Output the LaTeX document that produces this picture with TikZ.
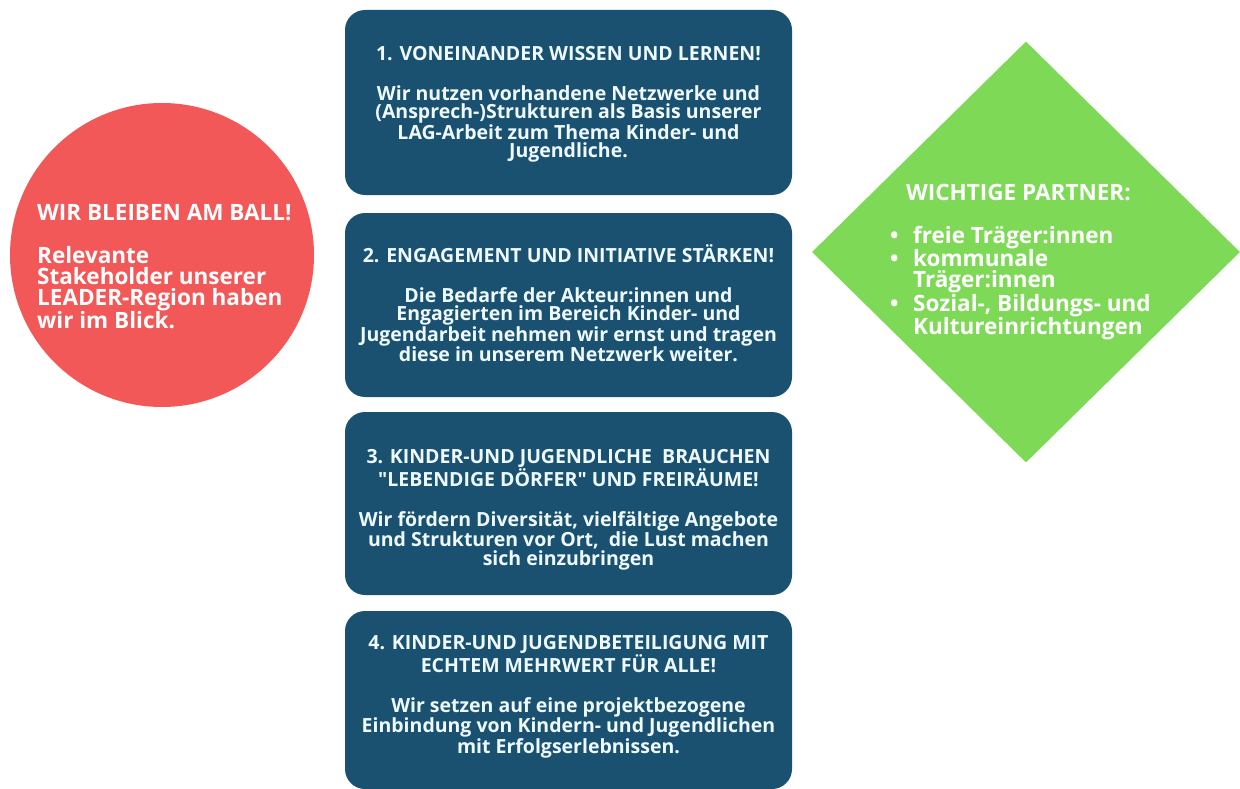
\documentclass[tikz,border=0pt]{standalone}
\usepackage{fontspec}
\setmainfont{Open Sans}
\usetikzlibrary{shapes.geometric}
\definecolor{kastenblau}{RGB}{26,80,112}
\definecolor{ballrot}{RGB}{242,88,88}
\definecolor{partnergruen}{RGB}{126,217,87}
\definecolor{schrift}{RGB}{238,250,255}
\newcommand{\punkt}{\makebox[23pt][l]{\textbullet}}
\newcommand{\einzug}{\hspace*{23pt}}
\newcommand{\kopf}[1]{\rule{0pt}{#1}}
\begin{document}
\begin{tikzpicture}[x=1pt,y=-1pt,
  ziel/.style={rectangle, rounded corners=20pt, fill=kastenblau, minimum width=447pt, inner sep=0pt},
  zieltext/.style={anchor=north, align=center, text=schrift, inner sep=0pt, font=\bfseries\fontsize{19.5}{18.5}\selectfont},
  seitentext/.style={anchor=north west, align=left, text=white, inner sep=0pt, font=\bfseries\fontsize{22.5}{21}\selectfont}]
\useasboundingbox (0,0) rectangle (1240,789);
\node[circle, fill=ballrot, minimum size=304pt, inner sep=0pt] (ball) at (162,255){};
\node[seitentext] (balltext) at (37,198){\kopf{22pt}WIR BLEIBEN AM BALL!\\[22pt]Relevante\\Stakeholder unserer\\LEADER-Region haben\\wir im Blick.};
\node[ziel, minimum height=185pt] (ziel1) at (568.5,102.5){};
\node[ziel, minimum height=184pt] (ziel2) at (568.5,305){};
\node[ziel, minimum height=183pt] (ziel3) at (568.5,503.5){};
\node[ziel, minimum height=178pt] (ziel4) at (568.5,700){};
\node[zieltext] (ziel1text) at (568.5,41){\kopf{19pt}1. VONEINANDER WISSEN UND LERNEN!\\[21.5pt]Wir nutzen vorhandene Netzwerke und\\(Ansprech-)Strukturen als Basis unserer\\LAG-Arbeit zum Thema Kinder- und\\Jugendliche.};
\node[zieltext] (ziel2text) at (568.5,243){\kopf{19pt}2. ENGAGEMENT UND INITIATIVE STÄRKEN!\\[21.5pt]Die Bedarfe der Akteur:innen und\\Engagierten im Bereich Kinder- und\\Jugendarbeit nehmen wir ernst und tragen\\diese in unserem Netzwerk weiter.};
\node[zieltext] (ziel3text) at (568.5,444){\kopf{19pt}3. KINDER-UND JUGENDLICHE\ \ BRAUCHEN\\\textquotedbl LEBENDIGE DÖRFER\textquotedbl{} UND FREIRÄUME!\\[21.5pt]Wir fördern Diversität, vielfältige Angebote\\und Strukturen vor Ort,\ \ die Lust machen\\sich einzubringen};
\node[zieltext] (ziel4text) at (568.5,630){\kopf{19pt}4. KINDER-UND JUGENDBETEILIGUNG MIT\\ECHTEM MEHRWERT FÜR ALLE!\\[21.5pt]Wir setzen auf eine projektbezogene\\Einbindung von Kindern- und Jugendlichen\\mit Erfolgserlebnissen.};
\node[diamond, fill=partnergruen, minimum width=428pt, minimum height=421pt, inner sep=0pt] (partner) at (1026,252){};
\node[seitentext] (partnertext) at (890,178){\kopf{22pt}\hspace*{16pt}WICHTIGE PARTNER:\\[22pt]\punkt freie Träger:innen\\\punkt kommunale\\\einzug Träger:innen\\\punkt Sozial-, Bildungs- und\\\einzug Kultureinrichtungen};
\end{tikzpicture}
\end{document}
